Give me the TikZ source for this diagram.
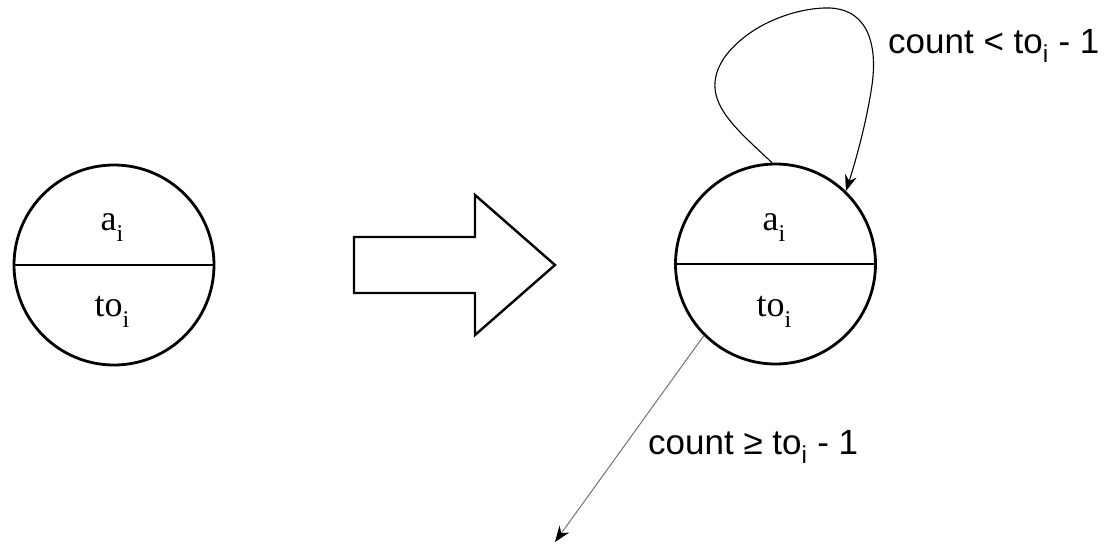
\documentclass[tikz,border=0pt]{standalone}
\usepackage{fontspec}
\setmainfont{Liberation Serif}
\setsansfont{Liberation Sans}
\usetikzlibrary{arrows.meta}
\newcommand{\lowsub}[1]{\raisebox{-0.32em}{\fontsize{24}{24}\selectfont #1}}
\begin{document}
\begin{tikzpicture}[x=1pt,y=-1pt,
  state/.style={circle,draw,line width=2.8pt,minimum size=200pt,inner sep=0pt},
  divider/.style={line width=1.6pt},
  inlabel/.style={font=\fontsize{36}{40}\selectfont,inner sep=0pt,anchor=base},
  cond/.style={font=\sffamily\fontsize{35}{40}\selectfont,inner sep=0pt,anchor=base west},
  loopline/.style={line width=1.1pt,-{Stealth[length=16pt,width=12pt]}},
  exitline/.style={line width=1pt,draw=black!55,-{Stealth[length=16pt,width=12pt,color=black]}},
  bigarrow/.style={draw,line width=2.4pt,line join=miter}]
\useasboundingbox (0,0) rectangle (1112,544);
% left state
\node[state] (L) at (114,265) {};
\draw[divider] (L.west) -- (L.east);
\node[inlabel] (La) at (112,230) {a\lowsub{i}};
\node[inlabel] (Lt) at (112,316) {to\lowsub{i}};
% big arrow
\draw[bigarrow] (354,237) -- (475,237) -- (475,195) -- (555,265) -- (475,335) -- (475,293) -- (354,293) -- cycle;
% right state
\node[state] (R) at (775.5,264) {};
\draw[divider] (R.west) -- (R.east);
\node[inlabel] (Ra) at (774,230) {a\lowsub{i}};
\node[inlabel] (Rt) at (774,316) {to\lowsub{i}};
% loop
\coordinate (ls) at (R.92);
\coordinate (le) at (R.46);
\draw[loopline] (ls) .. controls (732,125) and (698,98) .. (724,58)
  .. controls (750,22) and (800,7) .. (830,8)
  .. controls (871,10) and (877,50) .. (872,85)
  .. controls (867,120) and (856,160) .. (le);
\node[cond] (c1) at (888,53) {count < to\textsubscript{i} - 1};
% exit
\coordinate (xe) at (555,542);
\draw[exitline] (R.225) -- (xe);
\node[cond] (c2) at (648,454) {count ≥ to\textsubscript{i} - 1};
\end{tikzpicture}
\end{document}
